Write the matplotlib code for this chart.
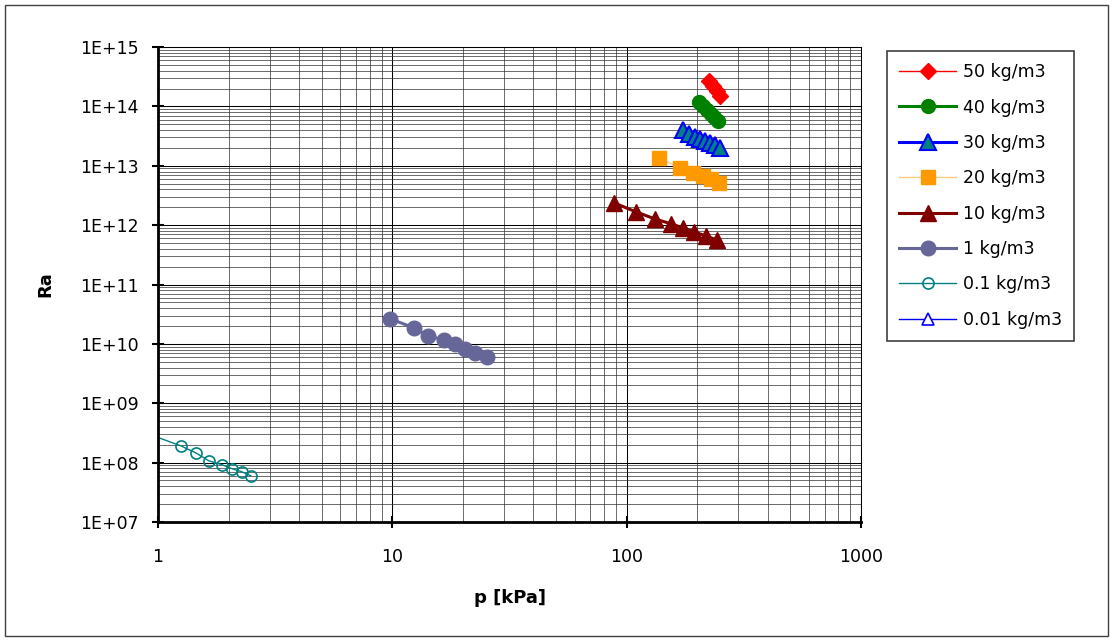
import numpy as np
import matplotlib
matplotlib.use('Agg')
import matplotlib.pyplot as plt
from matplotlib.ticker import LogLocator, FuncFormatter, NullFormatter
from matplotlib.patches import Rectangle

plt.rcParams['font.family'] = ['DejaVu Sans']

# data (p in kPa, Ra)
p_50 = [225, 234, 243, 250]
ra_50 = [2.68e14, 2.2e14, 1.82e14, 1.5e14]

p_40 = [204, 212, 220, 229, 236, 245]
ra_40 = [1.19e14, 1.02e14, 8.7e13, 7.45e13, 6.64e13, 5.68e13]

p_30 = [174, 185, 196, 206, 216, 227, 239, 250]
ra_30 = [4.0e13, 3.43e13, 3.05e13, 2.83e13, 2.62e13, 2.42e13, 2.24e13, 2.0e13]

p_20 = [137.5, 169, 192, 212, 229, 248]
ra_20 = [1.35e13, 9.2e12, 7.6e12, 6.7e12, 6.0e12, 5.1e12]

p_10 = [88.3, 109.7, 132, 155, 174, 194, 218, 243]
ra_10 = [2.37e12, 1.67e12, 1.27e12, 1.05e12, 8.97e11, 7.69e11, 6.58e11, 5.6e11]

p_1 = [9.78, 12.4, 14.2, 16.6, 18.5, 20.4, 22.5, 25.4]
ra_1 = [2.64e10, 1.86e10, 1.36e10, 1.17e10, 1.0e10, 8.2e9, 7.0e9, 6.0e9]

p_01 = [0.94, 1.25, 1.45, 1.65, 1.88, 2.07, 2.28, 2.49]
ra_01 = [2.9e8, 1.92e8, 1.46e8, 1.07e8, 9.2e7, 7.9e7, 7.0e7, 6.0e7]

# 0.01 kg/m3 lies below the plotted range, only shown in the legend
p_001 = []
ra_001 = []

W, H = 1113, 641
fig = plt.figure(figsize=(W / 100, H / 100), dpi=100)
fig.patches.append(Rectangle((5 / W, 5 / H), (W - 10) / W, (H - 10) / H,
                             transform=fig.transFigure, fill=False,
                             edgecolor='#404040', lw=1))

ax = fig.add_axes([158 / W, 1 - 522 / H, (861 - 158) / W, (522 - 47) / H])

ax.plot(p_50, ra_50, color='#FF0000', lw=1.0, marker='D', ms=8.5,
        mfc='#FF0000', mec='#FF0000', label='50 kg/m3')
ax.plot(p_40, ra_40, color='#008000', lw=2.2, marker='o', ms=10,
        mfc='#008000', mec='#008000', label='40 kg/m3')
ax.plot(p_30, ra_30, color='#0000FF', lw=2.2, marker='^', ms=11,
        mfc='#008080', mec='#0000FF', mew=1.5, label='30 kg/m3')
ax.plot(p_20, ra_20, color='#FFCC80', lw=1.0, marker='s', ms=10,
        mfc='#FF9900', mec='#FF9900', label='20 kg/m3')
ax.plot(p_10, ra_10, color='#800000', lw=2.2, marker='^', ms=11,
        mfc='#800000', mec='#800000', label='10 kg/m3')
ax.plot(p_1, ra_1, color='#666699', lw=2.2, marker='o', ms=10.5,
        mfc='#666699', mec='#666699', label='1 kg/m3')
ax.plot(p_01, ra_01, color='#008080', lw=1.0, marker='o', ms=8,
        mfc='none', mec='#008080', mew=1.2, label='0.1 kg/m3')
ax.plot(p_001, ra_001, color='#0000FF', lw=1.0, marker='^', ms=9,
        mfc='white', mec='#0000FF', mew=1.2, label='0.01 kg/m3')

ax.set_xscale('log')
ax.set_yscale('log')
ax.set_xlim(1, 1000)
ax.set_ylim(1e7, 1e15)

ax.xaxis.set_major_locator(LogLocator(base=10, numticks=10))
ax.xaxis.set_minor_locator(LogLocator(base=10, subs=np.arange(2, 10), numticks=10))
ax.yaxis.set_major_locator(LogLocator(base=10, numticks=20))
ax.yaxis.set_minor_locator(LogLocator(base=10, subs=np.arange(2, 10), numticks=20))
ax.xaxis.set_major_formatter(FuncFormatter(lambda v, pos: '%g' % v))
ax.yaxis.set_major_formatter(FuncFormatter(lambda v, pos: '1E+%02d' % round(np.log10(v))))
ax.xaxis.set_minor_formatter(NullFormatter())
ax.yaxis.set_minor_formatter(NullFormatter())

ax.grid(which='major', color='black', lw=0.75)
ax.grid(which='minor', color='#303030', lw=0.5)
ax.set_axisbelow(True)

for s in ['left', 'bottom']:
    ax.spines[s].set_linewidth(2)
for s in ['top', 'right']:
    ax.spines[s].set_linewidth(0.75)

ax.tick_params(which='major', direction='inout', length=8, width=1.5, labelsize=12.5)
ax.tick_params(axis='x', which='major', pad=15)
ax.tick_params(axis='y', which='major', pad=10)
ax.tick_params(which='minor', length=0)

ax.set_xlabel('p [kPa]', fontsize=13, fontweight='bold', va='center')
ax.xaxis.set_label_coords(0.5, (522 - 598) / (522 - 47))
ax.set_ylabel('Ra', fontsize=13, fontweight='bold', va='center')
ax.yaxis.set_label_coords((45 - 158) / (861 - 158), 0.5)

leg = ax.legend(loc='upper left', bbox_to_anchor=(887 / W, 1 - 51 / H),
                bbox_transform=fig.transFigure, borderaxespad=0,
                fontsize=12.5, frameon=True, fancybox=False, framealpha=1,
                edgecolor='#404040', borderpad=0.7, labelspacing=1.0,
                handlelength=3.3, handletextpad=0.35)
leg.get_frame().set_linewidth(1.2)

fig.savefig('out.png', dpi=100, facecolor='white')
